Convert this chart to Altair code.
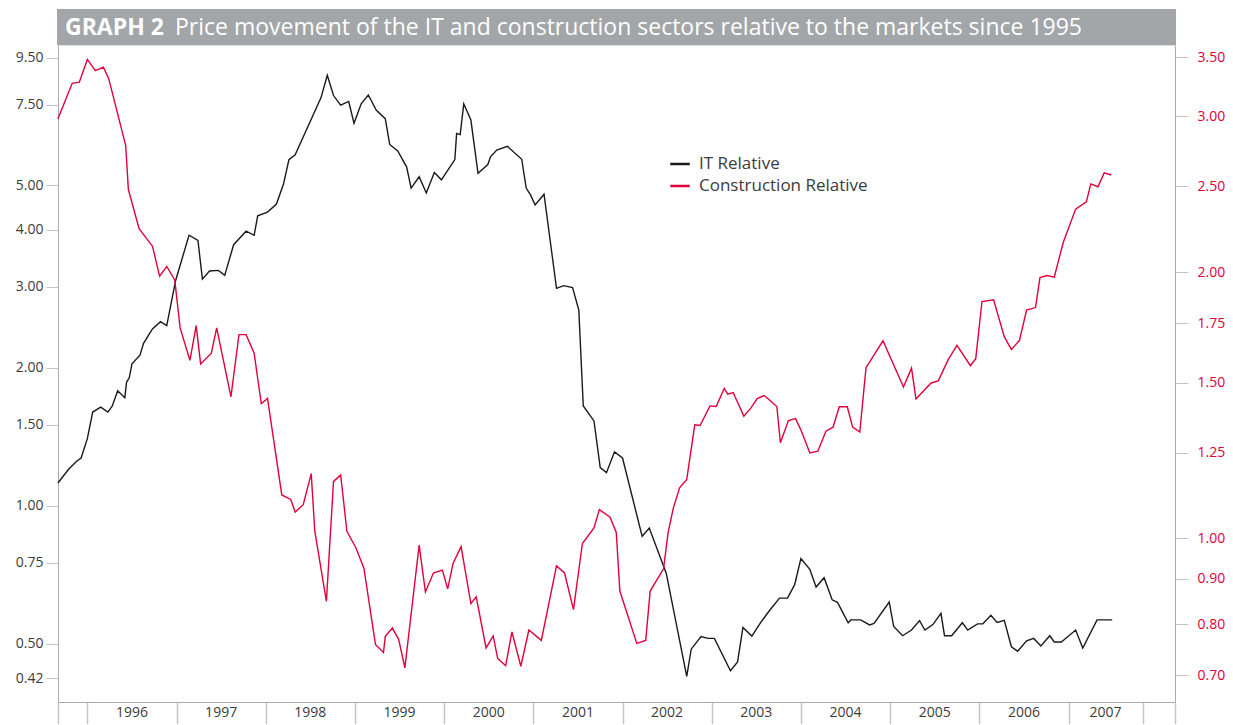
import altair as alt
import pandas as pd

# ---- data ----
it_year = [1995.67, 1995.79, 1995.88, 1995.93, 1996.00, 1996.06, 1996.15, 1996.23, 1996.28, 1996.34,
           1996.42, 1996.44, 1996.47, 1996.50, 1996.59, 1996.63, 1996.73, 1996.82, 1996.89, 1996.99,
           1997.14, 1997.24, 1997.29, 1997.37, 1997.47, 1997.54, 1997.64, 1997.78, 1997.87, 1997.91,
           1998.02, 1998.12, 1998.20, 1998.26, 1998.33, 1998.62, 1998.69, 1998.76, 1998.84, 1998.93,
           1998.99, 1999.07, 1999.15, 1999.24, 1999.34, 1999.39, 1999.48, 1999.58, 1999.63, 1999.72,
           1999.80, 1999.89, 1999.97, 2000.12, 2000.14, 2000.18, 2000.22, 2000.30, 2000.38, 2000.49,
           2000.52, 2000.59, 2000.71, 2000.87, 2000.92, 2000.97, 2001.02, 2001.12, 2001.26, 2001.34,
           2001.44, 2001.51, 2001.56, 2001.68, 2001.75, 2001.82, 2001.91, 2002.00, 2002.22, 2002.30,
           2002.49, 2002.72, 2002.77, 2002.88, 2002.96, 2003.03, 2003.21, 2003.29, 2003.35, 2003.45,
           2003.55, 2003.65, 2003.76, 2003.85, 2003.93, 2004.00, 2004.10, 2004.17, 2004.26, 2004.35,
           2004.41, 2004.53, 2004.56, 2004.67, 2004.77, 2004.82, 2004.99, 2005.04, 2005.14, 2005.24,
           2005.33, 2005.39, 2005.48, 2005.57, 2005.61, 2005.69, 2005.81, 2005.87, 2005.98, 2006.04,
           2006.13, 2006.20, 2006.28, 2006.36, 2006.43, 2006.53, 2006.61, 2006.69, 2006.79, 2006.84,
           2006.92, 2007.08, 2007.16, 2007.32, 2007.49]
it_value = [1.12, 1.20, 1.25, 1.27, 1.40, 1.60, 1.64, 1.60, 1.65, 1.78,
            1.72, 1.86, 1.90, 2.04, 2.13, 2.26, 2.43, 2.52, 2.47, 3.10,
            3.89, 3.79, 3.12, 3.25, 3.26, 3.18, 3.71, 3.97, 3.89, 4.29,
            4.37, 4.55, 5.04, 5.69, 5.83, 7.77, 8.69, 7.85, 7.48, 7.62,
            6.83, 7.53, 7.87, 7.29, 6.99, 6.14, 5.94, 5.48, 4.93, 5.22,
            4.81, 5.33, 5.14, 5.69, 6.49, 6.45, 7.53, 6.94, 5.31, 5.55,
            5.77, 5.97, 6.08, 5.70, 4.93, 4.76, 4.53, 4.78, 2.98, 3.02,
            2.99, 2.67, 1.65, 1.53, 1.21, 1.18, 1.31, 1.27, 0.857, 0.893,
            0.712, 0.424, 0.486, 0.518, 0.513, 0.513, 0.436, 0.456, 0.542, 0.519,
            0.556, 0.591, 0.628, 0.628, 0.672, 0.766, 0.726, 0.664, 0.696, 0.623,
            0.615, 0.555, 0.563, 0.563, 0.549, 0.553, 0.616, 0.545, 0.520, 0.535,
            0.561, 0.535, 0.550, 0.582, 0.520, 0.520, 0.555, 0.535, 0.552, 0.552,
            0.576, 0.556, 0.562, 0.492, 0.481, 0.507, 0.513, 0.494, 0.520, 0.504,
            0.504, 0.535, 0.489, 0.563, 0.563]

con_year = [1995.67, 1995.83, 1995.91, 1996.00, 1996.09, 1996.18, 1996.24, 1996.43, 1996.46, 1996.58,
            1996.73, 1996.81, 1996.89, 1996.98, 1997.04, 1997.15, 1997.22, 1997.27, 1997.39, 1997.45,
            1997.61, 1997.70, 1997.78, 1997.87, 1997.95, 1998.02, 1998.18, 1998.28, 1998.33, 1998.42,
            1998.51, 1998.55, 1998.68, 1998.76, 1998.84, 1998.91, 1999.01, 1999.10, 1999.23, 1999.32,
            1999.34, 1999.42, 1999.49, 1999.56, 1999.72, 1999.79, 1999.88, 1999.98, 2000.04, 2000.10,
            2000.19, 2000.30, 2000.36, 2000.47, 2000.55, 2000.60, 2000.69, 2000.76, 2000.86, 2000.95,
            2001.09, 2001.26, 2001.35, 2001.45, 2001.55, 2001.68, 2001.74, 2001.86, 2001.93, 2001.97,
            2002.16, 2002.26, 2002.31, 2002.46, 2002.51, 2002.57, 2002.64, 2002.72, 2002.81, 2002.87,
            2002.98, 2003.05, 2003.14, 2003.18, 2003.24, 2003.36, 2003.44, 2003.51, 2003.59, 2003.73,
            2003.77, 2003.86, 2003.94, 2004.00, 2004.10, 2004.19, 2004.28, 2004.36, 2004.43, 2004.52,
            2004.58, 2004.66, 2004.73, 2004.92, 2005.15, 2005.24, 2005.29, 2005.46, 2005.54, 2005.65,
            2005.75, 2005.90, 2005.96, 2006.03, 2006.16, 2006.28, 2006.36, 2006.45, 2006.53, 2006.63,
            2006.68, 2006.76, 2006.84, 2006.94, 2007.08, 2007.20, 2007.25, 2007.33, 2007.40, 2007.48]
con_value = [2.98, 3.27, 3.28, 3.48, 3.38, 3.41, 3.31, 2.78, 2.48, 2.24,
             2.14, 1.98, 2.03, 1.96, 1.73, 1.59, 1.74, 1.575, 1.62, 1.73,
             1.446, 1.70, 1.70, 1.62, 1.42, 1.44, 1.12, 1.107, 1.071, 1.092,
             1.184, 1.019, 0.849, 1.16, 1.18, 1.019, 0.976, 0.926, 0.759, 0.743,
             0.775, 0.792, 0.769, 0.714, 0.983, 0.870, 0.914, 0.921, 0.877, 0.937,
             0.979, 0.844, 0.859, 0.752, 0.776, 0.732, 0.718, 0.784, 0.717, 0.788,
             0.767, 0.931, 0.914, 0.831, 0.987, 1.028, 1.078, 1.057, 1.016, 0.872,
             0.761, 0.767, 0.872, 0.924, 1.014, 1.083, 1.141, 1.166, 1.344, 1.342,
             1.412, 1.410, 1.478, 1.456, 1.462, 1.375, 1.405, 1.439, 1.451, 1.410,
             1.283, 1.359, 1.366, 1.326, 1.249, 1.255, 1.322, 1.336, 1.409, 1.409,
             1.336, 1.319, 1.560, 1.673, 1.483, 1.558, 1.438, 1.499, 1.507, 1.592,
             1.653, 1.568, 1.597, 1.853, 1.861, 1.691, 1.635, 1.675, 1.812, 1.824,
             1.972, 1.983, 1.974, 2.159, 2.357, 2.402, 2.517, 2.498, 2.590, 2.576]

series_names = ["IT Relative", "Construction Relative"]
series_colors = ["#1a1a1a", "#e2003a"]

left_ticks = [0.42, 0.50, 0.75, 1.00, 1.50, 2.00, 3.00, 4.00, 5.00, 7.50, 9.50]
right_ticks = [0.70, 0.80, 0.90, 1.00, 1.25, 1.50, 1.75, 2.00, 2.50, 3.00, 3.50]
year_labels = ["1996", "1997", "1998", "1999", "2000", "2001", "2002",
               "2003", "2004", "2005", "2006", "2007"]
year_bounds = [1996, 1997, 1998, 1999, 2000, 2001, 2002, 2003, 2004, 2005, 2006, 2007, 2007.83]
x_domain = [1995.671, 2008.194]
left_domain = [0.3727, 10.12]
right_domain = [0.6533, 3.613]

title_bold = "GRAPH 2"
title_rest = "Price movement of the IT and construction sectors relative to the markets since 1995"

W, H = 1117, 657
FONT = "Open Sans"
GREY_LINE = "#a9adb0"
GREY_TICK = "#c2c5c8"
TEXT = "#3c3c3c"

it_df = pd.DataFrame({"year": it_year, "value": it_value, "series": series_names[0]})
con_df = pd.DataFrame({"year": con_year, "value": con_value, "series": series_names[1]})
yr_df = pd.DataFrame({
    "label": year_labels,
    "mid": [(year_bounds[i] + year_bounds[i + 1]) / 2 for i in range(len(year_labels))],
})

xscale = alt.Scale(domain=x_domain, nice=False, zero=False)
color = alt.Color("series:N",
                  scale=alt.Scale(domain=series_names, range=series_colors),
                  legend=alt.Legend(orient="none", legendX=611, legendY=108, title=None,
                                    symbolType="stroke", symbolStrokeWidth=2.5, symbolSize=380,
                                    labelFont=FONT, labelFontSize=17, labelColor=TEXT,
                                    labelLimit=400, labelOffset=8, rowPadding=3, padding=0))

it_line = alt.Chart(it_df).mark_line(strokeWidth=1.4).encode(
    x=alt.X("year:Q", scale=xscale,
            axis=alt.Axis(values=[x_domain[0]] + year_bounds + [x_domain[1]], labels=False,
                          title=None, tickSize=25, tickColor=GREY_TICK, tickWidth=1.5,
                          domainColor=GREY_LINE, grid=False)),
    y=alt.Y("value:Q", scale=alt.Scale(type="log", domain=left_domain, nice=False),
            axis=alt.Axis(orient="left", values=left_ticks, format=".2f", title=None,
                          tickSize=12, tickColor=GREY_TICK, domainColor=GREY_LINE,
                          labelColor=TEXT, labelFont=FONT, labelFontSize=14, labelPadding=3,
                          grid=False)),
    color=color,
)

con_line = alt.Chart(con_df).mark_line(strokeWidth=1.4).encode(
    x=alt.X("year:Q", scale=xscale),
    y=alt.Y("value:Q", scale=alt.Scale(type="log", domain=right_domain, nice=False),
            axis=alt.Axis(orient="right", values=right_ticks, format=".2f", title=None,
                          tickSize=13, tickColor=GREY_TICK, domainColor=GREY_LINE,
                          labelColor=series_colors[1], labelFont=FONT, labelFontSize=14,
                          labelPadding=9, grid=False)),
    color=color,
)

years = alt.Chart(yr_df).mark_text(font=FONT, fontSize=14, color=TEXT, baseline="middle").encode(
    x=alt.X("mid:Q", scale=xscale),
    y=alt.value(H + 11),
    text="label:N",
)

title_df = pd.DataFrame({"a": [title_bold], "b": [title_rest]})
bar = alt.Chart(title_df).mark_rect(color="#a2a6a9").encode(
    x=alt.value(-1), x2=alt.value(W + 1), y=alt.value(-36), y2=alt.value(0))
t1 = alt.Chart(title_df).mark_text(font=FONT, fontSize=23, fontWeight="bold", color="white",
                                   align="left", baseline="middle").encode(
    x=alt.value(7), y=alt.value(-17), text="a:N")
t2 = alt.Chart(title_df).mark_text(font=FONT, fontSize=23, color="white",
                                   align="left", baseline="middle").encode(
    x=alt.value(117), y=alt.value(-17), text="b:N")

chart = alt.layer(bar, t1, t2, it_line, con_line, years).resolve_scale(
    y="independent"
).properties(
    width=W, height=H,
    autosize=alt.AutoSizeParams(type="none"),
    padding={"left": 50, "top": 37, "right": 50, "bottom": 22},
).configure_view(stroke=None).configure(background="white")

chart.save("out.html", embed_options={"renderer": "svg", "actions": False})
